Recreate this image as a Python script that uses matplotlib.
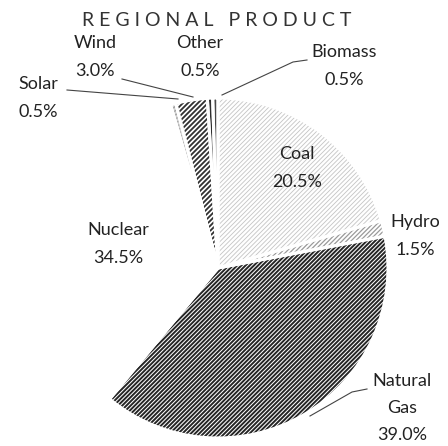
import numpy as np
import matplotlib.pyplot as plt
from matplotlib.collections import LineCollection

W, H = 448, 446

# chart data
labels = ["Coal", "Hydro", "Natural\nGas", "Nuclear", "Solar", "Wind", "Other", "Biomass"]
shares = [20.5, 1.5, 39.0, 34.5, 0.5, 3.0, 0.5, 0.5]
title = "R E G I O N A L   P R O D U C T"

# styling per slice: face colour and (spacing px, colour, width) of "/" hatch lines
face_colors = ["white", "white", "white", "white", "#d0d0d0", "white", "#2e2e2e", "#4a4a4a"]
hatch_style = [(4.5, "#c4c4c4", 0.6), (4.5, "#9a9a9a", 0.9), (4.2, "#252525", 1.4), None,
               (4.5, "#9a9a9a", 0.9), (5.0, "#303030", 1.3), None, None]

# label anchor points in pixels (x, y from top)
label_pos = [(297, 168), (415, 236), (402, 408), (118, 244),
             (38, 98), (95, 57), (200, 57), (344, 66)]

# leader lines in pixels
leaders = {
    "Wind": [(122, 79), (193, 97)],
    "Solar": [(67, 90), (178, 99)],
    "Biomass": [(307, 60), (293, 62), (222, 95)],
    "Natural\nGas": [(367, 389), (352, 392), (310, 416)],
}

CENTER = (218, 268)
RADIUS = 170
TXT = "#222222"


def py(y):
    return H - y


fig = plt.figure(figsize=(W / 100, H / 100), dpi=100)
ax = fig.add_axes([0, 0, 1, 1])

cx, cy = CENTER[0], py(CENTER[1])
wedges, _ = ax.pie(shares, startangle=90, counterclock=False, radius=RADIUS,
                   center=(cx, cy), colors=face_colors,
                   wedgeprops=dict(linewidth=0))

# hatch lines clipped to each wedge
for w, hs in zip(wedges, hatch_style):
    if hs is None:
        continue
    step, col, lw = hs
    offs = np.arange((cy - RADIUS) - (cx + RADIUS), (cy + RADIUS) - (cx - RADIUS), step)
    x0, x1 = cx - RADIUS, cx + RADIUS
    segs = [[(x0, x0 + c), (x1, x1 + c)] for c in offs]
    lc = LineCollection(segs, colors=col, linewidths=lw, zorder=w.get_zorder() + 0.1)
    ax.add_collection(lc)
    lc.set_clip_path(w)

# white gaps between slices
gaps, _ = ax.pie(shares, startangle=90, counterclock=False, radius=RADIUS,
                 center=(cx, cy),
                 wedgeprops=dict(fill=False, edgecolor="white", linewidth=2.2))
for g in gaps:
    g.set_zorder(5)

ax.set_xlim(0, W)
ax.set_ylim(0, H)
ax.set_aspect("equal")
ax.axis("off")

for lab, val, (x, y) in zip(labels, shares, label_pos):
    ax.text(x, py(y), f"{lab}\n{val:.1f}%", ha="center", va="center",
            fontsize=13, family="Lato", color=TXT, linespacing=1.85, zorder=6)

for lab, pts in leaders.items():
    ax.plot([p[0] for p in pts], [py(p[1]) for p in pts], color="#444444", lw=0.8, zorder=6)

ax.text(217, py(20), title, ha="center", va="center", fontsize=14,
        family="Lato", color="#333333")

fig.savefig("out.png", dpi=100)
